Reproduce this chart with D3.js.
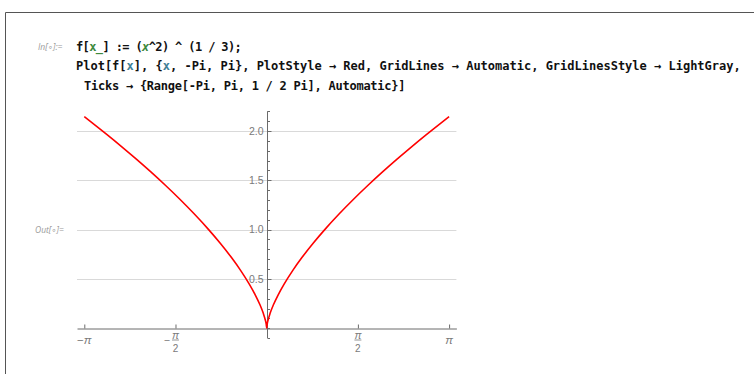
<!DOCTYPE html>
<html><head><meta charset="utf-8">
<script src="https://cdn.jsdelivr.net/npm/d3@7"></script>
<style>html,body{margin:0;padding:0;background:#fff;}svg{display:block;}</style>
</head><body>
<svg id="c" width="754" height="374"></svg>
<script>
// sample points of the plotted curve f[x] = (x^2)^(1/3)
const xs = [-3.1416,-3.0,-2.75,-2.5,-2.25,-2.0,-1.75,-1.5,-1.25,-1.0,-0.8,-0.6,-0.45,-0.3,-0.2,-0.12,-0.06,-0.025,-0.008,0,
            0.008,0.025,0.06,0.12,0.2,0.3,0.45,0.6,0.8,1.0,1.25,1.5,1.75,2.0,2.25,2.5,2.75,3.0,3.1416];
const ys = [2.1450,2.0801,1.9629,1.8420,1.7171,1.5874,1.4522,1.3104,1.1604,1.0,0.8618,0.7114,0.5872,0.4481,0.3420,0.2433,0.1533,0.0855,0.0400,0,
            0.0400,0.0855,0.1533,0.2433,0.3420,0.4481,0.5872,0.7114,0.8618,1.0,1.1604,1.3104,1.4522,1.5874,1.7171,1.8420,1.9629,2.0801,2.1450];
const xTickValues = [-Math.PI, -Math.PI/2, 0, Math.PI/2, Math.PI];
const xTickLabels = [["−","π",""],["−","π","2"],null,["","π","2"],["","π",""]];
const yTickValues = [0.5, 1.0, 1.5, 2.0];
const yTickLabels = ["0.5","1.0","1.5","2.0"];
const yMinorTicks = d3.range(-1, 23).map(i => i/10);
const codeLines = [
  {x:76, y:50.5, ls:-0.62, parts:[["f[",null],["x_","#3d8a3d"],["] := (",null],["x","#3d8a3d","italic"],["^2) ^ (1 / 3);",null]]},
  {x:76, y:70, ls:0, parts:[["Plot[f[",null],["x","#3f8096"],["], {",null],["x","#3f8096"],[", -Pi, Pi}, PlotStyle → Red, GridLines → Automatic, GridLinesStyle → LightGray,",null]]},
  {x:84, y:90, ls:-0.24, parts:[["Ticks → {Range[-Pi, Pi, 1 / 2 Pi], Automatic}]",null]]}
];

const svg = d3.select("#c");
// notebook cell frame
svg.append("line").attr("x1",5.5).attr("x2",754).attr("y1",12.5).attr("y2",12.5).attr("stroke","#555").attr("stroke-width",1);
svg.append("line").attr("x1",5.5).attr("x2",5.5).attr("y1",12.5).attr("y2",374).attr("stroke","#555").attr("stroke-width",1);

// In / Out labels
svg.append("text").attr("x",38).attr("y",50).attr("font-family","Open Sans, DejaVu Sans, sans-serif")
  .attr("font-size",8.5).attr("font-style","italic").attr("fill","#999").text("In[∘]:=");
svg.append("text").attr("x",35).attr("y",233).attr("font-family","Open Sans, DejaVu Sans, sans-serif")
  .attr("font-size",8.5).attr("font-style","italic").attr("fill","#999").text("Out[∘]=");

// code
codeLines.forEach(l => {
  const t = svg.append("text").attr("x",l.x).attr("y",l.y)
    .attr("font-family","DejaVu Sans Mono, Liberation Mono, monospace").attr("font-weight","bold")
    .attr("font-size",12).attr("fill","#111").attr("letter-spacing",l.ls);
  l.parts.forEach(p => {
    const s = t.append("tspan").text(p[0]);
    if (p[1]) s.attr("fill",p[1]);
    if (p[2]) s.attr("font-style",p[2]);
  });
});

const x = d3.scaleLinear().domain([-3.2673, 3.2673]).range([77, 456.4]);
const y = d3.scaleLinear().domain([-0.1, 2.2]).range([338.1, 111.3]);
const axisCol = "#6b6b6b", labCol = "#7a7a7a";

// gridlines
svg.append("g").selectAll("line").data(yTickValues).join("line")
  .attr("x1",x.range()[0]).attr("x2",x.range()[1])
  .attr("y1",d=>Math.round(y(d))+0.5).attr("y2",d=>Math.round(y(d))+0.5)
  .attr("stroke","#d9d9d9").attr("stroke-width",1);

// x axis
const y0 = Math.round(y(0))+0.5;
const x0 = Math.round(x(0))+0.5;
const gx = svg.append("g").attr("transform",`translate(0,${y0})`);
gx.call(d3.axisBottom(x).tickValues(xTickValues).tickSizeInner(-4).tickSizeOuter(0).tickFormat(""));
gx.select(".domain").attr("stroke",axisCol);
gx.selectAll(".tick line").attr("stroke",axisCol).filter(d=>d===0).remove();
// x labels (π fractions)
const sans = "Liberation Sans, Arial, sans-serif";
xTickValues.forEach((v,i) => {
  const lab = xTickLabels[i]; if (!lab) return;
  const cx = x(v);
  const g = svg.append("g").attr("fill",labCol).attr("font-family",sans);
  if (lab[2] === "") {
    const t = g.append("text").attr("x",cx).attr("y",y0+15.5).attr("text-anchor","middle").attr("font-size",11.5);
    if (lab[0]) t.append("tspan").text(lab[0]);
    t.append("tspan").attr("font-style","italic").text(lab[1]);
  } else {
    g.append("text").attr("x",cx).attr("y",y0+10).attr("text-anchor","middle").attr("font-size",10.5).attr("font-style","italic").text(lab[1]);
    g.append("line").attr("x1",cx-3.5).attr("x2",cx+3.5).attr("y1",y0+11.5).attr("y2",y0+11.5).attr("stroke",labCol).attr("stroke-width",0.8);
    g.append("text").attr("x",cx).attr("y",y0+23).attr("text-anchor","middle").attr("font-size",10).text(lab[2]);
    if (lab[0]) g.append("text").attr("x",cx-5.5).attr("y",y0+15).attr("text-anchor","end").attr("font-size",10.5).text(lab[0]);
  }
});

// y axis
const gy = svg.append("g").attr("transform",`translate(${x0},0)`);
gy.append("line").attr("y1",y.range()[0]).attr("y2",y.range()[1]).attr("stroke",axisCol);
gy.selectAll("line.minor").data(yMinorTicks).join("line").attr("class","minor")
  .attr("x1",0).attr("x2",d => yTickValues.some(t=>Math.abs(t-d)<1e-9) ? 4 : 2.5)
  .attr("y1",d=>Math.round(y(d))+0.5).attr("y2",d=>Math.round(y(d))+0.5).attr("stroke",axisCol);
gy.selectAll("text").data(yTickValues).join("text")
  .attr("x",-4).attr("y",d=>y(d)).attr("dy","0.35em").attr("text-anchor","end")
  .attr("font-family",sans).attr("font-size",10.5).attr("fill",labCol)
  .text((d,i)=>yTickLabels[i]);

// curve
const pts = xs.map((v,i)=>[v, ys[i]]);
svg.append("path").datum(pts)
  .attr("d", d3.line().x(d=>x(d[0])).y(d=>y(d[1])).curve(d3.curveMonotoneX))
  .attr("fill","none").attr("stroke","#ff0000").attr("stroke-width",1.6);
</script>
</body></html>
